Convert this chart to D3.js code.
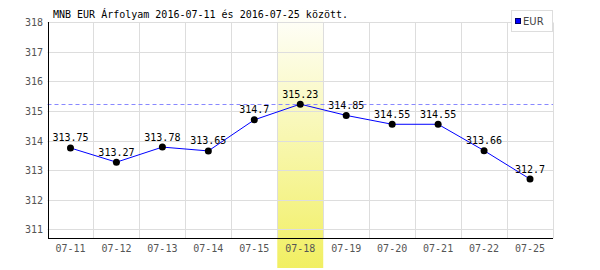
<!DOCTYPE html>
<html>
<head>
<meta charset="utf-8">
<script src="https://cdn.jsdelivr.net/npm/d3@7"></script>
<style>
body { margin: 0; background: #fff; }
svg { display: block; }
</style>
</head>
<body>
<svg width="600" height="270"></svg>
<script>
// Chart data
const days = ["07-11", "07-12", "07-13", "07-14", "07-15", "07-18", "07-19", "07-20", "07-21", "07-22", "07-25"];
const rates = [313.75, 313.27, 313.78, 313.65, 314.7, 315.23, 314.85, 314.55, 314.55, 313.66, 312.7];
const yTicks = [311, 312, 313, 314, 315, 316, 317, 318];
const highlightDay = "07-18";
const title = "MNB EUR Árfolyam 2016-07-11 és 2016-07-25 között.";
const seriesName = "EUR";

const mono = "'DejaVu Sans Mono', monospace";
const plotLeft = 47.5, plotRight = 553, plotTop = 22.1, plotBottom = 238.3;

const svg = d3.select("svg");

const x = d3.scaleBand()
    .domain(days)
    .range([plotLeft, plotRight]);

const y = d3.scaleLinear()
    .domain([310.7, 318])
    .range([plotBottom, plotTop]);

// highlight band gradient
const grad = svg.append("defs").append("linearGradient")
    .attr("id", "hl")
    .attr("x1", 0).attr("y1", 0).attr("x2", 0).attr("y2", 1);
grad.append("stop").attr("offset", "0%").attr("stop-color", "#ffffff");
grad.append("stop").attr("offset", "100%").attr("stop-color", "#f1ef62");

svg.append("rect")
    .attr("x", x(highlightDay))
    .attr("y", 7)
    .attr("width", x.bandwidth())
    .attr("height", 268 - 7)
    .attr("fill", "url(#hl)");

// grid
const grid = svg.append("g")
    .attr("stroke", "#dddddd")
    .attr("stroke-width", 1);

grid.selectAll("line.h")
    .data(yTicks)
    .join("line")
    .attr("class", "h")
    .attr("x1", plotLeft)
    .attr("x2", plotRight)
    .attr("y1", d => Math.round(y(d)) + 0.5)
    .attr("y2", d => Math.round(y(d)) + 0.5);

grid.selectAll("line.v")
    .data(days)
    .join("line")
    .attr("class", "v")
    .attr("x1", d => Math.round(x(d) + x.bandwidth()) + 0.5)
    .attr("x2", d => Math.round(x(d) + x.bandwidth()) + 0.5)
    .attr("y1", Math.round(plotTop) + 0.5)
    .attr("y2", plotBottom);

// max dashed line
const maxRate = d3.max(rates);
svg.append("line")
    .attr("x1", plotLeft)
    .attr("x2", plotRight)
    .attr("y1", Math.round(y(maxRate)) + 0.5)
    .attr("y2", Math.round(y(maxRate)) + 0.5)
    .attr("stroke", "#8888ff")
    .attr("stroke-dasharray", "4,3");

// axes
svg.append("line")
    .attr("x1", 48.5).attr("x2", 48.5)
    .attr("y1", Math.round(plotTop)).attr("y2", Math.round(plotBottom) + 0.5)
    .attr("stroke", "#000");
svg.append("line")
    .attr("x1", 48).attr("x2", plotRight)
    .attr("y1", Math.round(plotBottom) + 0.5).attr("y2", Math.round(plotBottom) + 0.5)
    .attr("stroke", "#000");

svg.append("g")
    .selectAll("text")
    .data(yTicks)
    .join("text")
    .attr("x", 43)
    .attr("y", d => y(d) + 4)
    .attr("text-anchor", "end")
    .style("font", "10px " + mono)
    .attr("fill", "#555")
    .text(d => d);

svg.append("g")
    .selectAll("text")
    .data(days)
    .join("text")
    .attr("x", d => x(d) + x.bandwidth() / 2)
    .attr("y", 252)
    .attr("text-anchor", "middle")
    .style("font", "10px " + mono)
    .attr("fill", "#555")
    .text(d => d);

// series line
const line = d3.line()
    .x((d, i) => x(days[i]) + x.bandwidth() / 2)
    .y(d => y(d));

svg.append("path")
    .datum(rates)
    .attr("d", line)
    .attr("fill", "none")
    .attr("stroke", "#0000ff")
    .attr("stroke-width", 1);

svg.append("g")
    .selectAll("circle")
    .data(rates)
    .join("circle")
    .attr("cx", (d, i) => x(days[i]) + x.bandwidth() / 2)
    .attr("cy", d => y(d))
    .attr("r", 3.5)
    .attr("fill", "#000");

svg.append("g")
    .selectAll("text")
    .data(rates)
    .join("text")
    .attr("x", (d, i) => x(days[i]) + x.bandwidth() / 2)
    .attr("y", d => y(d) - 6.5)
    .attr("text-anchor", "middle")
    .style("font", "10px " + mono)
    .attr("fill", "#000")
    .text(d => d);

// title
svg.append("text")
    .attr("x", 53)
    .attr("y", 18)
    .style("font", "10px " + mono)
    .attr("fill", "#000")
    .text(title);

// legend
svg.append("rect")
    .attr("x", 511.5).attr("y", 10.5)
    .attr("width", 41).attr("height", 21)
    .attr("fill", "#fff")
    .attr("stroke", "#dddddd");
svg.append("rect")
    .attr("x", 515.5).attr("y", 18.5)
    .attr("width", 5).attr("height", 5)
    .attr("fill", "#0000ff")
    .attr("stroke", "#000066");
svg.append("text")
    .attr("x", 523)
    .attr("y", 24.5)
    .style("font", "10px 'DejaVu Sans', sans-serif")
    .attr("fill", "#444")
    .text(seriesName);
</script>
</body>
</html>
